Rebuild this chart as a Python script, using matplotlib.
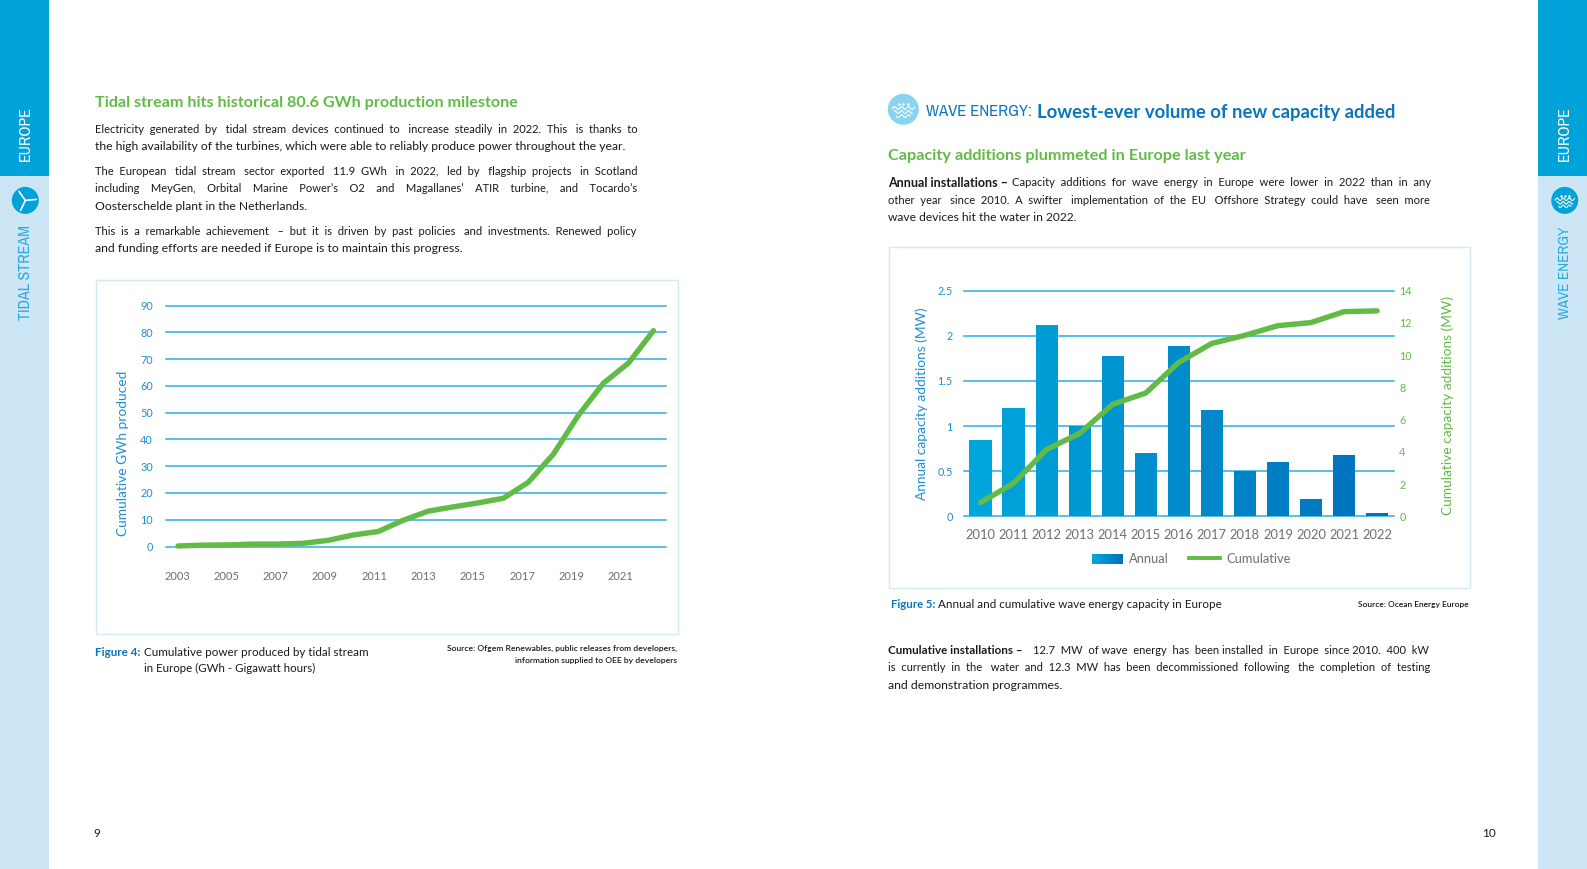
import numpy as np
import matplotlib
matplotlib.use("Agg")
import matplotlib.pyplot as plt
from matplotlib.patches import Rectangle, Circle, Patch
from matplotlib.lines import Line2D
from matplotlib.legend_handler import HandlerBase
from matplotlib.colors import LinearSegmentedColormap
from matplotlib import font_manager as fm

# ---- data ----
tidal_years = list(range(2003, 2023))
tidal_gwh = [0.2, 0.5, 0.6, 0.9, 0.9, 1.2, 2.3, 4.3, 5.6, 9.8, 13.2, 14.8, 16.3, 18.0,
             24.0, 34.5, 49.0, 61.0, 68.5, 80.6]
tidal_ticks = [0, 10, 20, 30, 40, 50, 60, 70, 80, 90]
tidal_year_labels = [2003, 2005, 2007, 2009, 2011, 2013, 2015, 2017, 2019, 2021]

wave_years = list(range(2010, 2023))
wave_annual = [0.85, 1.2, 2.12, 1.0, 1.78, 0.7, 1.89, 1.18, 0.5, 0.6, 0.19, 0.68, 0.04]
wave_cumulative = [0.85, 2.05, 4.15, 5.15, 6.95, 7.65, 9.55, 10.73, 11.23, 11.83, 12.02, 12.7, 12.75]
annual_ticks = [0, 0.5, 1, 1.5, 2, 2.5]
annual_labels = ["0", "0.5", "1", "1.5", "2", "2.5"]
cumulative_ticks = [0, 2, 4, 6, 8, 10, 12, 14]

# ---- style ----
W, H = 1587, 869
P = W / 1568
FONT = "Lato"
names = sorted({f.name for f in fm.fontManager.ttflist})
narrow = [n for n in names if "Narrow" in n or "Condensed" in n]
NARROW = narrow[0] if narrow else "Lato"
plt.rcParams["font.family"] = FONT
SIDE = "#00A3D9"
SIDE_L = "#CDE6F5"
GRID = "#29B0E0"
GREEN = "#62BB46"
BLUE = "#0A76BC"
TICK = "#1E8FD2"
GREY = "#6D6E71"
INK = "#1A1A1A"
CARD = "#D3EAF6"
grad = LinearSegmentedColormap.from_list("g", ["#00A5DB", "#0071BC"])

fig = plt.figure(figsize=(W / 100, H / 100), dpi=100, facecolor="white")
bg = fig.add_axes([0, 0, 1, 1], zorder=0)
bg.set_xlim(0, W)
bg.set_ylim(H, 0)
bg.axis("off")
renderer = fig.canvas.get_renderer()


def spaced(words, extra):
    """Join words, sharing out `extra` additional spaces evenly across the gaps."""
    n_gaps = len(words) - 1
    gaps = [1] * n_gaps
    for i in range(extra):
        gaps[int((i + 0.5) * n_gaps / extra) % n_gaps] += 1
    out = words[0]
    for g, w in zip(gaps, words[1:]):
        out += " " * g + w
    return out


def fit(s, x0, x1, y, size, color=INK, weight="normal", family=None, justify=False):
    """One line of text scaled to span x0..x1 (reference coordinates);
    justified lines first widen their word gaps with extra spaces."""
    t = bg.text(x0 * P, (y + 1) * P, s, fontsize=size, color=color, fontweight=weight,
                family=family or FONT, va="center", ha="left")
    target = (x1 - x0) * P
    if justify:
        words = s.split(" ")
        extra = 0
        while extra < 40:
            t.set_text(spaced(words, extra + 1))
            if t.get_window_extent(renderer).width > target * 1.004:
                break
            extra += 1
        t.set_text(spaced(words, extra) if extra else s)
    w = t.get_window_extent(renderer).width
    t.set_fontsize(size * target / w)
    return t


def side_label(s, x, y0, y1, color, weight):
    t = bg.text(x * P, (y0 + y1) / 2 * P, s, rotation=90, ha="center", va="center", family=NARROW,
                color=color, fontweight=weight, fontsize=12)
    h = t.get_window_extent(renderer).height
    t.set_fontsize(12 * (y1 - y0) * P / h)


def rect(x0, y0, x1, y1, **kw):
    bg.add_patch(Rectangle((x0 * P, y0 * P), (x1 - x0) * P, (y1 - y0) * P, **kw))


def waves(cx, cy, r, color="white"):
    for k, dy in enumerate([-0.08, 0.18, 0.44]):
        half = r * (0.72 - 0.14 * k)
        xs = np.linspace(-half, half, 50)
        bg.plot(cx + xs, cy + dy * r + 0.09 * r * np.sin(xs / r * 14), color=color, lw=0.8)
    for dx in (-0.3, 0, 0.3):
        bg.plot([cx + dx * r], [cy - 0.35 * r], marker="o", ms=0.8, color=color)


def turbine(cx, cy, r):
    bg.add_patch(Circle((cx, cy), r, color=SIDE, lw=0))
    for a in (100, 220, 340):
        a = np.deg2rad(a + 25)
        bg.plot([cx, cx + 0.82 * r * np.cos(a)], [cy, cy - 0.82 * r * np.sin(a)],
                color="white", lw=1.2, solid_capstyle="round")


# ---- side bars ----
rect(0, 0, 48, 174, color=SIDE, lw=0)
rect(0, 174, 48, 859.5, color=SIDE_L, lw=0)
rect(1520, 0, 1568, 174, color=SIDE, lw=0)
rect(1520, 174, 1568, 859.5, color=SIDE_L, lw=0)
side_label("EUROPE", 25, 105, 159, "white", "bold")
side_label("TIDAL STREAM", 25, 222, 316, "#2AA9DE", "normal")
side_label("EUROPE", 1546, 105, 159, "white", "bold")
side_label("WAVE ENERGY", 1546, 224, 315, "#2AA9DE", "normal")
turbine(25 * P, 198 * P, 13.5)
bg.add_patch(Circle((1546 * P, 198 * P), 13.5, color=SIDE, lw=0))
waves(1546 * P, 198 * P, 13.5)

# ---- left page text ----
BODY = 8.05
fit("Tidal stream hits historical 80.6 GWh production milestone", 94, 511, 101, 11, GREEN, "bold")
for s, x1, y, j in [
    ("Electricity generated by tidal stream devices continued to increase steadily in 2022. This is thanks to", 629, 127, True),
    ("the high availability of the turbines, which were able to reliably produce power throughout the year.", 620, 144, False),
    ("The European tidal stream sector exported 11.9 GWh in 2022, led by flagship projects in Scotland", 629, 168, True),
    ("including MeyGen, Orbital Marine Power\u2019s O2 and Magallanes\u2019 ATIR turbine, and Tocardo\u2019s", 629, 185, True),
    ("Oosterschelde plant in the Netherlands.", 304, 203, False),
    ("This is a remarkable achievement \u2013 but it is driven by past policies and investments. Renewed policy", 629, 228, True),
    ("and funding efforts are needed if Europe is to maintain this progress.", 456, 245, False),
]:
    fit(s, 94, x1, y, BODY, justify=j)

rect(95, 277, 670, 626.5, fc="white", ec=CARD, lw=1)
fit("Figure 4:", 94, 139, 644, 8, BLUE, "bold")
fit("Cumulative power produced by tidal stream", 142, 365, 644, 8)
fit("in Europe (GWh - Gigawatt hours)", 142, 313, 659.5, 8)
src = fit("Source: Ofgem Renewables, public releases from developers,", 442, 669, 640, 6, weight="semibold")
bg.text(669 * P, 652.5 * P, "information supplied to OEE by developers", fontsize=src.get_fontsize(),
        fontweight="semibold", color=INK, ha="right", va="center")
bg.text(96 * P, 824 * P, "9", fontsize=8.5, color=INK, ha="center", va="center")

# ---- right page text ----
bg.add_patch(Circle((892.5 * P, 108 * P), 15.5, color="#8AD3F1", lw=0))
waves(892.5 * P, 108 * P, 15.5)
fit("WAVE ENERGY:", 915, 1020, 109, 14, BLUE, family=NARROW)
fit("Lowest-ever volume of new capacity added", 1025, 1379, 110, 13, BLUE, "bold")
fit("Capacity additions plummeted in Europe last year", 877, 1231, 153.5, 11, GREEN, "bold")
fit("Annual installations \u2013", 877, 996, 179.5, BODY, weight="bold")
fit("Capacity additions for wave energy in Europe were lower in 2022 than in any", 1000, 1412, 179.5, BODY, justify=True)
fit("other year since 2010. A swifter implementation of the EU Offshore Strategy could have seen more", 877, 1412, 197, BODY, justify=True)
fit("wave devices hit the water in 2022.", 877, 1063, 214, BODY)
rect(878, 244, 1452.5, 580.5, fc="white", ec=CARD, lw=1)
fit("Figure 5:", 880, 924, 596.5, 8, BLUE, "bold")
fit("Annual and cumulative wave energy capacity in Europe", 927, 1206, 596.5, 8)
fit("Source: Ocean Energy Europe", 1342, 1452, 596.5, 6, weight="semibold")
fit("Cumulative installations \u2013", 877, 1009, 642, BODY, weight="bold")
fit("12.7 MW of wave energy has been installed in Europe since 2010. 400 kW", 1021, 1411, 642, BODY, justify=True)
fit("is currently in the water and 12.3 MW has been decommissioned following the completion of testing", 877, 1411, 659, BODY, justify=True)
fit("and demonstration programmes.", 877, 1050, 676.5, BODY)
bg.text(1471 * P, 824 * P, "10", fontsize=8.5, color=INK, ha="center", va="center")


def chart_axes(x0, y0, x1, y1):
    """Axes placed by full-size pixel box."""
    ax = fig.add_axes([x0 / W, 1 - y1 / H, (x1 - x0) / W, (y1 - y0) / H], zorder=2)
    ax.patch.set_alpha(0)
    for s in ax.spines.values():
        s.set_visible(False)
    ax.set_axisbelow(True)
    ax.grid(axis="y", color=GRID, lw=1.1, clip_on=False)
    ax.grid(axis="x", visible=False)
    return ax


# ---- Figure 4 ----
a1 = chart_axes(165.5, 305.5, 666, 546.5)
a1.plot(tidal_years, tidal_gwh, color=GREEN, lw=3.9, solid_capstyle="round",
        solid_joinstyle="round", clip_on=False)
a1.set_xlim(2002.5, 2022.5)
a1.set_ylim(0, 90)
a1.set_yticks(tidal_ticks)
# the reference's year labels run a little tighter than its data points
a1.set_xticks([2002.96 + (y - 2003) * 0.985 for y in tidal_year_labels])
a1.set_xticklabels([str(y) for y in tidal_year_labels])
a1.tick_params(axis="y", length=0, pad=9, labelsize=7.8, labelcolor=TICK)
a1.tick_params(axis="x", length=0, pad=18, labelsize=8, labelcolor=GREY)
a1.set_ylabel("Cumulative GWh produced", color=TICK, fontsize=9.9, labelpad=8, y=0.385)

# ---- Figure 5 ----
a2 = chart_axes(964, 290.7, 1393.6, 516.3)
n = len(wave_years)
a2.bar(wave_years, wave_annual, width=0.67, color=[grad(i / (n - 1)) for i in range(n)], zorder=2)
a2.set_xlim(2009.5, 2022.5)
a2.set_ylim(0, 2.5)
a2.set_yticks(annual_ticks)
a2.set_yticklabels(annual_labels)
a2.set_xticks(wave_years)
a2.tick_params(axis="y", length=0, pad=8, labelsize=7.8, labelcolor=TICK)
a2.tick_params(axis="x", length=0, pad=9, labelsize=9.3, labelcolor=GREY)
a2.set_ylabel("Annual capacity additions (MW)", color=TICK, fontsize=9.9, labelpad=7)

b2 = a2.twinx()
b2.patch.set_alpha(0)
for s in b2.spines.values():
    s.set_visible(False)
b2.plot(wave_years, wave_cumulative, color=GREEN, lw=3.9, solid_capstyle="round",
        solid_joinstyle="round", clip_on=False)
b2.set_ylim(0, 14)
b2.set_yticks(cumulative_ticks)
b2.tick_params(axis="y", length=0, pad=4, labelsize=7.8, labelcolor=GREEN)
b2.set_ylabel("Cumulative capacity additions (MW)", color=GREEN, fontsize=9.9, labelpad=21.5, y=0.49)
b2.grid(False)


class GradientHandler(HandlerBase):
    def create_artists(self, legend, orig, x, y, w, h, fs, trans):
        steps = 24
        return [Rectangle((x + w * i / steps, y - 1), w / steps + 0.3, h + 1, color=grad(i / (steps - 1)),
                          lw=0, transform=trans) for i in range(steps)]


swatch = Patch(label="Annual")
leg_line = Line2D([], [], color=GREEN, lw=2.8, label="Cumulative")
leg = b2.legend(handles=[swatch, leg_line], handler_map={swatch: GradientHandler()},
                loc="center", bbox_to_anchor=(1177 * P, 552 * P), bbox_transform=bg.transData,
                ncols=2, frameon=False, fontsize=9.3, labelcolor=GREY, handlelength=2.4,
                handletextpad=0.45, columnspacing=1.6)

fig.savefig("out.png", dpi=100, facecolor="white")
